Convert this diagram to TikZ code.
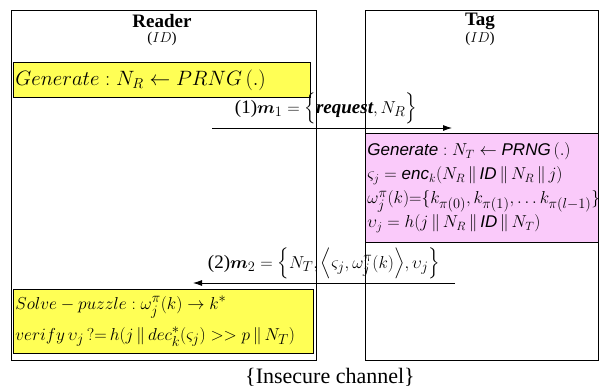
\documentclass[tikz,border=0pt]{standalone}
\usepackage{amsmath}
\usepackage{fontspec}
\setmainfont{Liberation Serif}
\newfontfamily\tagfont{Liberation Sans}
\usetikzlibrary{arrows.meta}

\definecolor{readerfill}{RGB}{255,255,85}
\definecolor{tagfill}{RGB}{250,202,250}

\newcommand{\tw}[1]{\text{\itshape #1}}

\tikzset{
  party/.style={draw, thick, anchor=north west, inner sep=0pt},
  stepbox/.style={draw, thick, anchor=north west, align=left, inner sep=2pt},
  msg/.style={-{Latex[length=9pt,width=6pt]}, thick}
}

\begin{document}
\begin{tikzpicture}[x=1pt,y=-1pt]

	\useasboundingbox (0,0) rectangle (600,391);

	% parties
	\node[party, minimum width=305, minimum height=350] (reader) at (11,10) {};
	\node[party, minimum width=233, minimum height=350] (tag) at (365,10) {};

	\node[inner sep=0pt, font=\bfseries\fontsize{19}{21}\selectfont] (readerName) at (162,21) {Reader};
	\node[inner sep=0pt, font=\fontsize{15}{16}\selectfont] (readerId) at (162,39) {($ID$)};
	\node[inner sep=0pt, font=\bfseries\fontsize{19}{21}\selectfont] (tagName) at (480,21) {Tag};
	\node[inner sep=0pt, font=\fontsize{15}{16}\selectfont] (tagId) at (480,39) {($ID$)};

	% reader step 1
	\node[stepbox, fill=readerfill, minimum width=297, minimum height=35,
		text width=293, font=\fontsize{21}{23}\selectfont] (genR) at (13,62)
		{$Generate: N_R \leftarrow PRNG\,(.)$};

	% message 1
	\coordinate (m1s) at (212,128);
	\coordinate (m1e) at (452,128);
	\draw[msg] (m1s) -- (m1e)
		node[midway, above=0pt, xshift=-6pt, font=\fontsize{19}{21}\selectfont] (m1)
		{(1)$\boldsymbol{m}_1 = \Big\{\text{\bfseries\itshape request}, N_R\Big\}$};

	% tag step
	\node[stepbox, fill=tagfill, minimum width=233, minimum height=109,
		text width=229, font=\tagfont\fontsize{17}{24}\selectfont] (genT) at (365,133)
		{$\tw{Generate}: N_T \leftarrow \tw{PRNG}\,(.)$\\
		 $\varsigma_j = \tw{enc}_k(N_R \,\|\, \tw{ID} \,\|\, N_R \,\|\, j)$\\
		 {\fontsize{19}{25}\selectfont$\omega_j^{\pi}(k) {=} \{k_{\pi(0)}, k_{\pi(1)}, \ldots k_{\pi(l-1)}\}$}\\
		 $\upsilon_j = h(j \,\|\, N_R \,\|\, \tw{ID} \,\|\, N_T)$};

	% message 2
	\coordinate (m2s) at (455,283);
	\coordinate (m2e) at (193,283);
	\draw[msg] (m2s) -- (m2e)
		node[midway, above=0pt, font=\fontsize{19}{21}\selectfont] (m2)
		{(2)$\boldsymbol{m}_2 = \Big\{N_T, \Big\langle\varsigma_j, \omega_j^{\pi}(k)\Big\rangle, \upsilon_j\Big\}$};

	% reader step 2
	\node[stepbox, fill=readerfill, minimum width=300, minimum height=64,
		text width=296, font=\fontsize{19}{31}\selectfont] (solve) at (13,289)
		{$Solve-puzzle: \omega_j^{\pi}(k) \rightarrow k^{*}$\\
		 $verify\,\upsilon_j\,?{=}\,h(j \,\|\, dec_k^{*}(\varsigma_j) >> p \,\|\, N_T)$};

	\node[font=\fontsize{22}{24}\selectfont] (channel) at (330,377) {\{Insecure channel\}};

\end{tikzpicture}
\end{document}
